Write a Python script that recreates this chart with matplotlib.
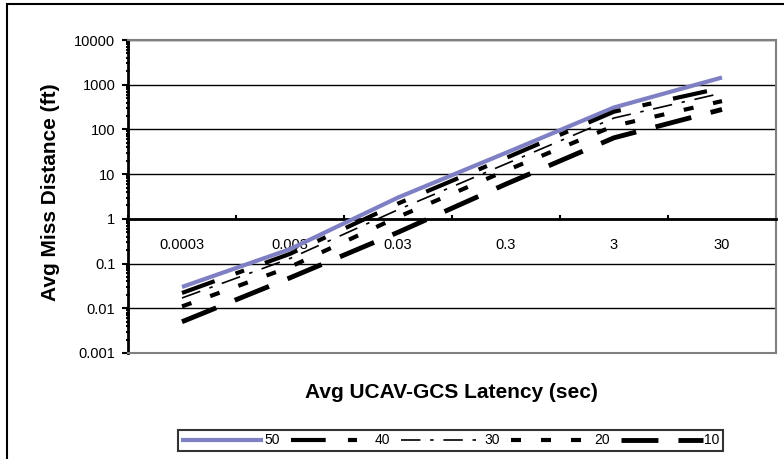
import matplotlib
matplotlib.use('Agg')
import matplotlib.pyplot as plt
from matplotlib.patches import Rectangle
from matplotlib.transforms import Bbox
from matplotlib.ticker import FixedLocator, LogLocator, NullFormatter, FixedFormatter

plt.rcParams['font.family'] = ['Liberation Sans', 'DejaVu Sans']
plt.rcParams['lines.scale_dashes'] = False

# latencia (categorias del eje x)
latency_labels = ['0.0003', '0.003', '0.03', '0.3', '3', '30']
series_names = ['50', '40', '30', '20', '10']

# distancia media de error (ft) por serie
miss_50 = [0.03, 0.21, 3.0, 30, 310, 1450]
miss_40 = [0.022, 0.165, 2.2, 23, 250, 850]
miss_30 = [0.017, 0.13, 1.6, 17, 180, 650]
miss_20 = [0.011, 0.084, 1.1, 12, 120, 430]
miss_10 = [0.005, 0.048, 0.5, 6, 65, 280]

y_ticks = [0.001, 0.01, 0.1, 1, 10, 100, 1000, 10000]
y_tick_labels = ['0.001', '0.01', '0.1', '1', '10', '100', '1000', '10000']

fig = plt.figure(figsize=(7.84, 4.59), dpi=100)
ax = fig.add_axes([128/784, 1 - 353/459, 648/784, 313/459])

xs = range(len(latency_labels))
ax.plot(xs, miss_50, color='#7f7fc4', lw=3, solid_capstyle='butt', zorder=3, label=series_names[0])
ax.plot(xs, miss_40, color='black', lw=3, ls=(0, (25, 16, 6.5, 16)), zorder=3, label=series_names[1])
ax.plot(xs, miss_30, color='black', lw=1.2, ls=(0, (14, 7, 2.5, 7)), zorder=3, label=series_names[2])
ax.plot(xs, miss_20, color='black', lw=3, ls=(0, (7.2, 14.4)), zorder=3, label=series_names[3])
ax.plot(xs, miss_10, color='black', lw=3.5, ls=(0, (26.6, 14.4)), zorder=3, label=series_names[4])

ax.set_yscale('log')
ax.set_ylim(0.001, 10000)
ax.set_xlim(-0.5, len(latency_labels) - 0.5)

# eje y
ax.yaxis.set_major_locator(FixedLocator(y_ticks))
ax.yaxis.set_major_formatter(FixedFormatter(y_tick_labels))
ax.yaxis.set_minor_locator(LogLocator(base=10, subs=range(2, 10), numticks=20))
ax.yaxis.set_minor_formatter(NullFormatter())
ax.tick_params(axis='y', which='major', direction='out', length=4, width=1.5, pad=5, labelsize=10.5)
ax.tick_params(axis='y', which='minor', direction='inout', length=3, width=1.5)
ax.yaxis.grid(True, which='major', color='black', lw=1)

# eje x cruza en y=1 (estilo Excel)
ax.spines['bottom'].set_position(('data', 1))
ax.spines['bottom'].set_linewidth(2)
ax.spines['left'].set_linewidth(2)
for s in ['top', 'right']:
    ax.spines[s].set_color('#808080')
    ax.spines[s].set_linewidth(1.5)
ax.axhline(0.001, color='#808080', lw=1.5, clip_on=False, zorder=2.6)

ax.xaxis.set_major_locator(FixedLocator([i - 0.5 for i in range(len(latency_labels) + 1)]))
ax.xaxis.set_major_formatter(NullFormatter())
ax.xaxis.set_minor_locator(FixedLocator(list(xs)))
ax.xaxis.set_minor_formatter(FixedFormatter(latency_labels))
ax.tick_params(axis='x', which='major', direction='in', length=3, width=1.5)
ax.tick_params(axis='x', which='minor', length=0, pad=14, labelsize=10.5)

fig.text(451/784, 1 - 392/459, 'Avg UCAV-GCS Latency (sec)', ha='center', va='center',
         fontsize=15, fontweight='bold')
ylab = fig.text(51/784, 1 - 192/459, 'Avg Miss Distance (ft)', ha='center', va='center',
                rotation=90, fontsize=15, fontweight='bold')
# el titulo del eje y sale cortado arriba en el original
ylab.set_clip_box(Bbox([[0, 0], [784, 459 - 79]]))
ylab.set_clip_on(True)

leg = fig.legend(loc='center', bbox_to_anchor=(450.5/784, 1 - 440.5/459), ncol=5,
                 fontsize=10, handlelength=5.9, handletextpad=0.1, columnspacing=0.8,
                 borderpad=0.25, fancybox=False, frameon=True)
leg.get_frame().set_edgecolor('black')
leg.get_frame().set_linewidth(1.5)

# borde exterior del grafico
fig.patches.append(Rectangle((7/784, -0.2), 1.1, 1.2 - 4/459, transform=fig.transFigure,
                             fill=False, edgecolor='black', lw=1.5))

fig.savefig('out.png', dpi=100)
